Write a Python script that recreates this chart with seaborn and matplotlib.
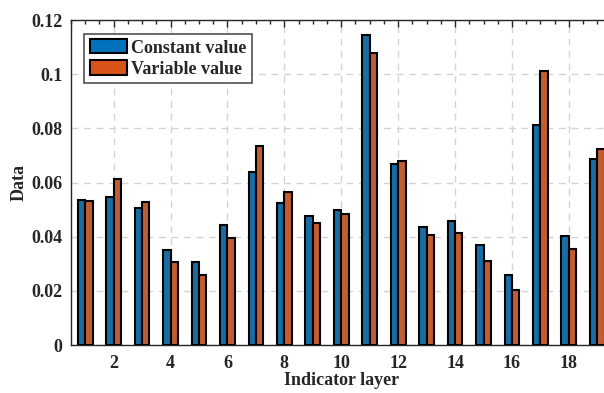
import pandas as pd
import matplotlib
matplotlib.use('Agg')
import matplotlib.pyplot as plt
import seaborn as sns
from matplotlib.ticker import MultipleLocator
from matplotlib.patches import Patch

# Данные
layers = list(range(1, 20))
constant_vals = [0.0535, 0.0545, 0.0505, 0.0350, 0.0306, 0.0444, 0.0639, 0.0523, 0.0476, 0.0499,
                 0.1144, 0.0667, 0.0435, 0.0458, 0.0370, 0.0258, 0.0811, 0.0401, 0.0688]
variable_vals = [0.0533, 0.0613, 0.0529, 0.0306, 0.0257, 0.0394, 0.0735, 0.0565, 0.0452, 0.0484,
                 0.1077, 0.0680, 0.0407, 0.0415, 0.0311, 0.0203, 0.1012, 0.0356, 0.0723]
series_names = ['Constant value', 'Variable value']
colors = ['#0072BD', '#D95319']

df = pd.DataFrame({
    'layer': layers * 2,
    'value': constant_vals + variable_vals,
    'series': [series_names[0]] * len(layers) + [series_names[1]] * len(layers),
})

sns.set_style('white')
plt.rcParams['font.family'] = ['Liberation Serif', 'DejaVu Serif']
plt.rcParams['font.weight'] = 'bold'
plt.rcParams['axes.labelweight'] = 'bold'

fig = plt.figure(figsize=(6.04, 3.93), dpi=100)
ax = fig.add_axes([0.1175, 0.1221, 0.895, 0.827])

sns.barplot(data=df, x='layer', y='value', hue='series', native_scale=True,
            palette=colors, width=0.52, gap=0, dodge=True,
            edgecolor='black', linewidth=1.5, ax=ax, legend=False, zorder=3)

ax.set_xlim(0.5, 19.5)
ax.set_ylim(0, 0.12)
ax.xaxis.set_minor_locator(MultipleLocator(0.5))
ax.yaxis.set_minor_locator(MultipleLocator(0.005))
ax.set_yticks([0, 0.02, 0.04, 0.06, 0.08, 0.1, 0.12])
ax.set_yticklabels(['0', '0.02', '0.04', '0.06', '0.08', '0.1', '0.12'])
ax.set_xticks(range(2, 19, 2))
ax.set_xticklabels([str(v) for v in range(2, 19, 2)])

ax.tick_params(which='both', direction='in', top=True, right=False,
               labelsize=13, width=1, colors='#262626', labelcolor='#262626')
ax.tick_params(which='major', length=5)
ax.tick_params(which='minor', length=3)
ax.tick_params(axis='x', which='major', pad=7)
ax.tick_params(axis='y', which='major', pad=6)
for s in ['left', 'bottom', 'top']:
    ax.spines[s].set_color('#262626')
    ax.spines[s].set_linewidth(1)
ax.spines['right'].set_visible(False)

ax.grid(True, which='major', linestyle=(0, (5, 4)), color='#d4d4d4', linewidth=1, zorder=0)
ax.set_axisbelow(True)

ax.set_xlabel('Indicator layer', fontsize=13, fontweight='bold', labelpad=0.5)
ax.set_ylabel('Data', fontsize=13, fontweight='bold', labelpad=3)

handles = [Patch(facecolor=c, edgecolor='black', linewidth=1.5) for c in colors]
leg = ax.legend(handles, series_names, loc='upper left', bbox_to_anchor=(0.025, 0.958),
                prop={'size': 13, 'weight': 'bold'}, frameon=True, fancybox=False,
                edgecolor='#262626', handlelength=2.05, handleheight=0.85, handletextpad=0.25,
                labelspacing=0.2, borderpad=0.3, borderaxespad=0)
leg.get_frame().set_linewidth(1.2)

fig.savefig('out.png', dpi=100)
